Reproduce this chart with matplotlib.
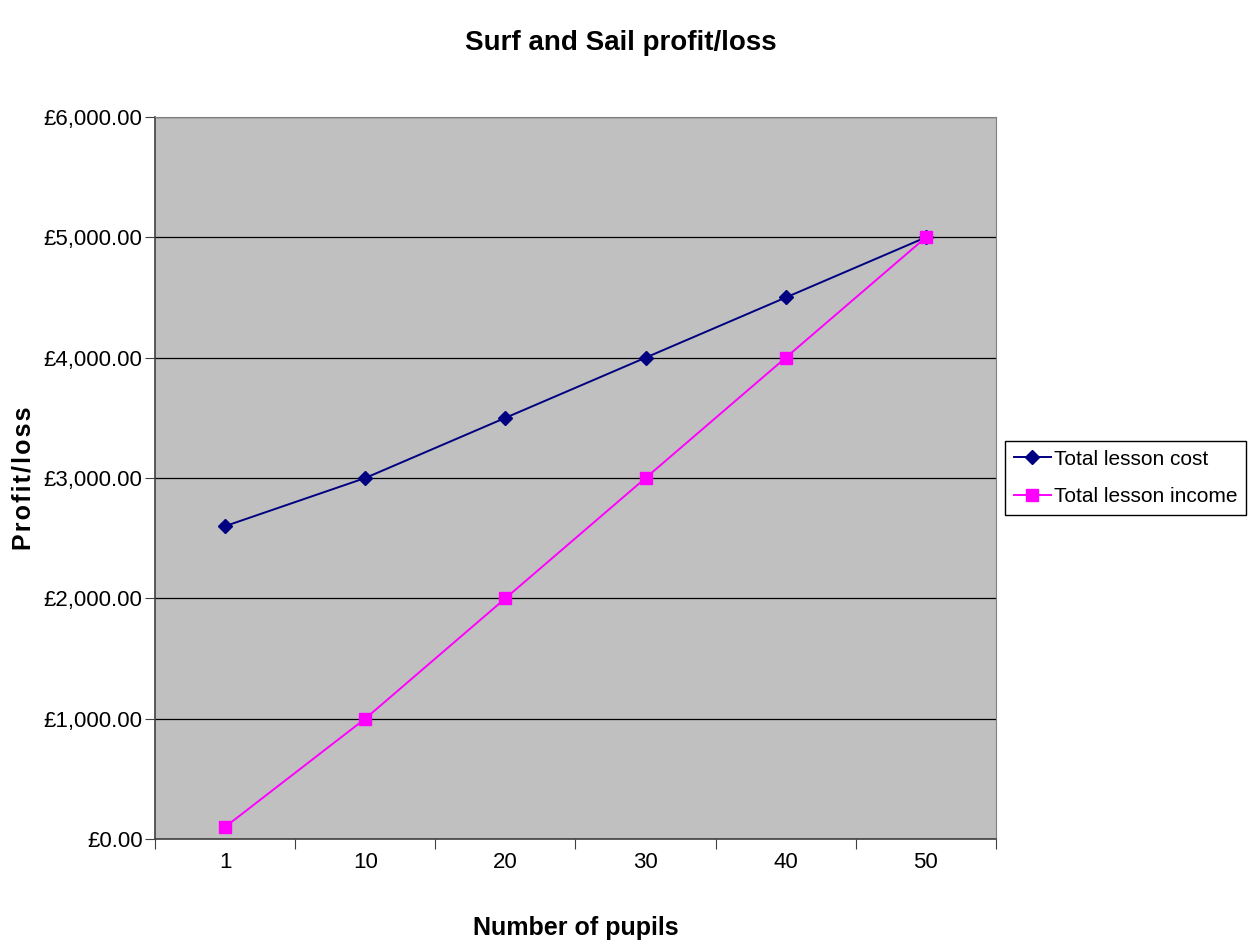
import matplotlib
matplotlib.use("Agg")
import matplotlib.pyplot as plt
from matplotlib.ticker import FuncFormatter, FixedLocator
import numpy as np

plt.rcParams['font.family'] = ['Liberation Sans Narrow', 'Liberation Sans', 'DejaVu Sans']

pupils = ['1', '10', '20', '30', '40', '50']
lesson_cost = [2600, 3000, 3500, 4000, 4500, 5000]
lesson_income = [100, 1000, 2000, 3000, 4000, 5000]

fig = plt.figure(figsize=(12.56, 9.47), dpi=100)
ax = fig.add_axes([155/1256, 108/947, 841/1256, 722/947])
ax.set_facecolor('#C0C0C0')

x = np.arange(len(pupils))
ax.plot(x, lesson_cost, color='#000080', marker='D', markersize=7, lw=1.4,
        label='Total lesson cost')
ax.plot(x, lesson_income, color='#FF00FF', marker='s', markersize=8, lw=1.4,
        label='Total lesson income')

ax.set_xlim(-0.5, len(pupils) - 0.5)
ax.set_ylim(0, 6000)
ax.set_yticks(np.arange(0, 6001, 1000))
ax.yaxis.set_major_formatter(FuncFormatter(lambda v, p: '£{:,.2f}'.format(v)))
ax.grid(axis='y', color='black', lw=0.9)
ax.set_axisbelow(True)

# category ticks between groups, labels centred
ax.xaxis.set_major_locator(FixedLocator(np.arange(-0.5, len(pupils), 1.0)))
ax.xaxis.set_major_formatter(FuncFormatter(lambda v, p: ''))
ax.set_xticks(x, minor=True)
ax.set_xticklabels(pupils, minor=True)
ax.tick_params(axis='x', which='major', length=7, color='#404040', direction='out')
ax.tick_params(axis='x', which='minor', length=0, pad=9, labelsize=16)
ax.tick_params(axis='y', length=7, color='#404040', direction='out', labelsize=16, pad=2)

for s in ['top', 'right']:
    ax.spines[s].set_color('#808080')
for s in ['left', 'bottom']:
    ax.spines[s].set_color('#404040')
    ax.spines[s].set_linewidth(1.2)

ax.set_xlabel('Number of pupils', fontsize=18, fontweight='bold', labelpad=31)
ax.set_ylabel('\u200a'.join('Profit/loss'), fontsize=18, fontweight='bold', labelpad=6)
fig.suptitle('Surf and Sail profit/loss', fontsize=20, fontweight='bold', x=0.494, y=0.968)

leg = ax.legend(loc='center left', bbox_to_anchor=(1.0, 0.5), fontsize=15,
                frameon=True, fancybox=False, edgecolor='black', framealpha=1,
                borderpad=0.4, labelspacing=0.9, handlelength=1.8, handletextpad=0.15,
                borderaxespad=0.45)
leg.get_frame().set_linewidth(1.0)

fig.savefig('out.png', dpi=100)
